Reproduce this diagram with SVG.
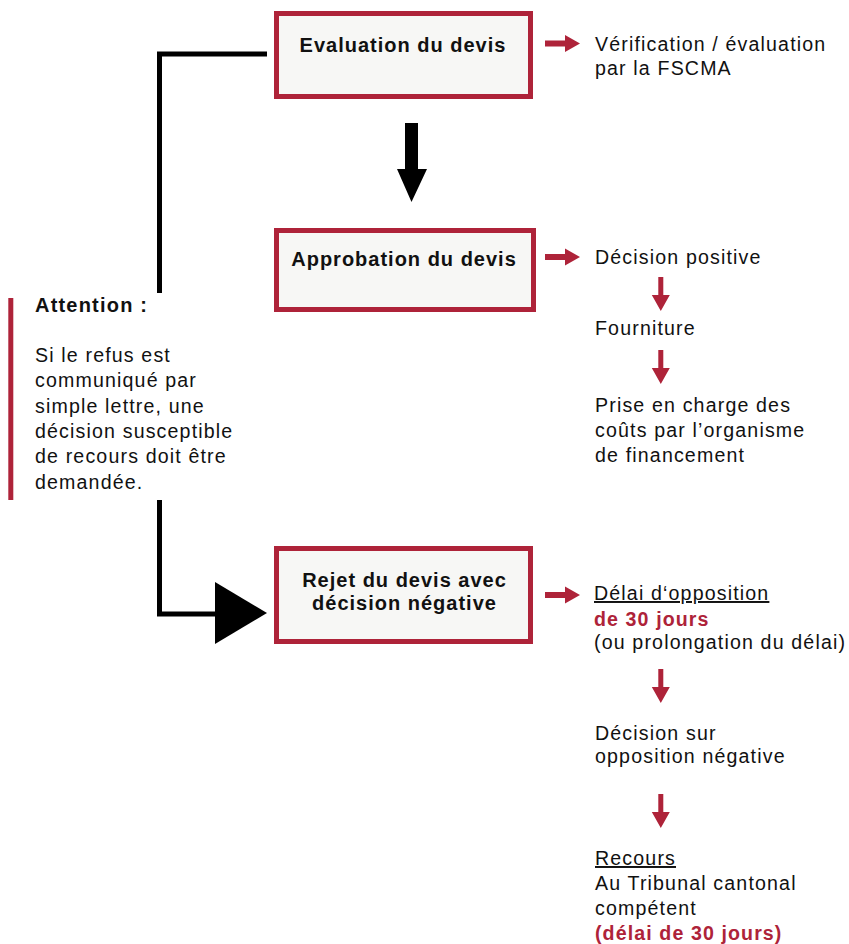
<svg xmlns="http://www.w3.org/2000/svg" width="849" height="944" viewBox="0 0 849 944">
<style>
.box{fill:#f7f7f5;stroke:#ae2339;stroke-width:5}
.t{font-family:"Liberation Sans",Arial,sans-serif;font-size:19.6px;letter-spacing:1.15px;fill:#111}
.b{font-family:"Liberation Sans",Arial,sans-serif;font-size:20px;font-weight:bold;letter-spacing:1px;fill:#111}
.bt{text-anchor:middle}
.rb{font-weight:bold;fill:#ae2339;letter-spacing:1.1px}
.u{text-decoration:underline}
.ra{fill:#ae2339}
.bl{fill:none;stroke:#000;stroke-width:5}
</style>
<g id="connectors">
<path class="bl" d="M267,54 H159.5 V293"/>
<path class="bl" d="M159.5,500 V614 H222"/>
<polygon points="215,582 267,613 215,644" fill="#000"/>
<polygon points="405,123 418,123 418,169 427,169 411.5,202 397,169 405,169" fill="#000"/>
<polygon class="ra" points="545,40.5 565,40.5 565,35 580,43.5 565,52 565,46.5 545,46.5"/>
<polygon class="ra" points="545,254 565,254 565,248.5 580,257 565,265.5 565,260 545,260"/>
<polygon class="ra" points="545,592 565,592 565,586.5 580,595 565,603.5 565,598 545,598"/>
<polygon class="ra" points="658.3,277 663.3,277 663.3,295 669.8,295 660.8,311 651.8,295 658.3,295"/>
<polygon class="ra" points="658.3,350 663.3,350 663.3,368 669.8,368 660.8,384 651.8,368 658.3,368"/>
<polygon class="ra" points="658.3,669 663.3,669 663.3,687 669.8,687 660.8,703 651.8,687 658.3,687"/>
<polygon class="ra" points="658.3,794 663.3,794 663.3,812 669.8,812 660.8,828 651.8,812 658.3,812"/>
</g>
<g id="evaluation">
<rect class="box" x="276.5" y="13.5" width="254" height="83"/>
<text class="b bt" x="403" y="52">Evaluation du devis</text>
</g>
<g id="approbation">
<rect class="box" x="276.5" y="230.5" width="257" height="79"/>
<text class="b bt" x="404" y="266">Approbation du devis</text>
</g>
<g id="rejet">
<rect class="box" x="276.5" y="548.5" width="254" height="93"/>
<text class="b bt" x="404.5" y="587">Rejet du devis avec</text>
<text class="b bt" x="404.5" y="610">décision négative</text>
</g>
<g id="attention">
<rect x="8.3" y="298" width="5" height="202" fill="#ae2339"/>
<text class="b" x="35" y="312" style="letter-spacing:1.2px">Attention :</text>
<text class="t" x="35" y="362">Si le refus est</text>
<text class="t" x="35" y="387">communiqué par</text>
<text class="t" x="35" y="412.5">simple lettre, une</text>
<text class="t" x="35" y="438">décision susceptible</text>
<text class="t" x="35" y="463">de recours doit être</text>
<text class="t" x="35" y="488.5">demandée.</text>
</g>
<g id="verification">
<text class="t" x="595" y="51">Vérification / évaluation</text>
<text class="t" x="595" y="75">par la FSCMA</text>
</g>
<g id="decision-positive">
<text class="t" x="595" y="264">Décision positive</text>
</g>
<g id="fourniture">
<text class="t" x="595" y="335">Fourniture</text>
</g>
<g id="prise-en-charge">
<text class="t" x="595" y="412">Prise en charge des</text>
<text class="t" x="595" y="437">coûts par l’organisme</text>
<text class="t" x="595" y="462">de financement</text>
</g>
<g id="delai-opposition">
<text class="t u" x="594" y="600">Délai d‘opposition</text>
<text class="t rb" x="594" y="625.5">de 30 jours</text>
<text class="t" x="594" y="649">(ou prolongation du délai)</text>
</g>
<g id="decision-opposition">
<text class="t" x="595" y="740">Décision sur</text>
<text class="t" x="595" y="763">opposition négative</text>
</g>
<g id="recours">
<text class="t u" x="595" y="865">Recours</text>
<text class="t" x="595" y="890">Au Tribunal cantonal</text>
<text class="t" x="595" y="915">compétent</text>
<text class="t rb" x="595" y="940">(délai de 30 jours)</text>
</g>
</svg>
